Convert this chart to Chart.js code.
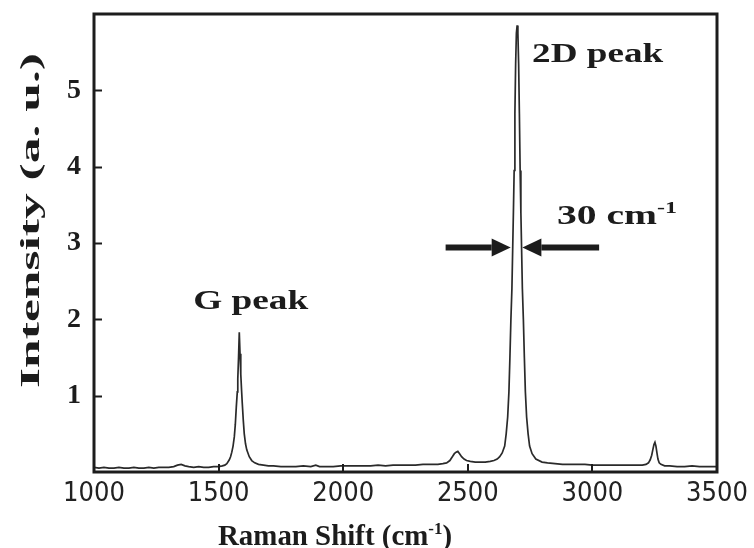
<!DOCTYPE html>
<html>
<head>
<meta charset="utf-8">
<script src="https://cdn.jsdelivr.net/npm/chart.js@4.4.0/dist/chart.umd.min.js"></script>
<style>
    html, body { margin: 0; padding: 0; background: #fff; }
    #obal { width: 754px; height: 548px; position: relative; }
</style>
</head>
<body>
<div id="obal"><canvas id="ramanGraf"></canvas></div>
<script>
// Raman spektrum
const ramanShift = [
    1000, 1020, 1040, 1060, 1080, 1100, 1120, 1140, 1160, 1180, 1200, 1220, 1240, 1260, 1280, 1300,
    1320, 1335, 1350, 1365, 1380, 1400, 1420, 1440, 1460, 1480, 1500, 1515, 1525, 1533,
    1543, 1548, 1553, 1558, 1563, 1567, 1571, 1575, 1577, 1580, 1583, 1586, 1589, 1592, 1595, 1599,
    1603, 1608, 1613, 1623, 1633, 1645, 1660, 1680, 1700, 1720, 1750, 1780, 1810, 1840, 1870, 1890,
    1905, 1930, 1960, 1990, 2020, 2050, 2080, 2110, 2140, 2170, 2200, 2230, 2260, 2290, 2320, 2350,
    2380, 2400, 2415, 2428, 2438, 2446, 2453, 2460, 2467, 2475, 2485, 2495, 2510, 2530, 2550, 2570,
    2590, 2605, 2618, 2628, 2638, 2648, 2654, 2660, 2665, 2669, 2673, 2677, 2680, 2683, 2686, 2689,
    2692, 2695, 2698, 2701, 2704, 2707, 2710, 2713, 2716, 2719, 2723, 2727, 2731, 2736,
    2742, 2748, 2758, 2773, 2798, 2820, 2850, 2880, 2910, 2940, 2970, 3000, 3030, 3060, 3090, 3120,
    3150, 3180, 3200, 3215, 3225, 3232, 3238, 3243, 3247, 3251, 3255, 3259, 3263, 3268, 3275, 3290,
    3310, 3340, 3370, 3400, 3430, 3460, 3500
];
const intensity = [
    0.06, 0.05, 0.06, 0.05, 0.05, 0.06, 0.05, 0.05, 0.06, 0.05, 0.05, 0.06, 0.05, 0.06, 0.06, 0.06,
    0.07, 0.09, 0.10, 0.08, 0.07, 0.06, 0.07, 0.06, 0.06, 0.07, 0.07, 0.08, 0.09, 0.11,
    0.16, 0.20, 0.26, 0.34, 0.46, 0.62, 0.85, 1.05, 1.22, 1.50, 1.83, 1.55, 1.28, 1.08, 0.90, 0.68,
    0.50, 0.37, 0.29, 0.20, 0.15, 0.12, 0.10, 0.09, 0.08, 0.08, 0.07, 0.07, 0.07, 0.08, 0.07, 0.09,
    0.07, 0.07, 0.07, 0.08, 0.08, 0.08, 0.08, 0.08, 0.09, 0.08, 0.09, 0.09, 0.09, 0.09, 0.10, 0.10,
    0.10, 0.11, 0.12, 0.15, 0.20, 0.24, 0.26, 0.27, 0.24, 0.20, 0.17, 0.15, 0.14, 0.13, 0.13, 0.13,
    0.14, 0.15, 0.17, 0.20, 0.25, 0.34, 0.50, 0.72, 1.05, 1.50, 2.00, 2.40, 2.90, 3.40, 3.95, 4.70,
    5.35, 5.75, 5.85, 5.75, 5.35, 4.70, 3.95, 3.40, 2.90, 2.40, 2.00, 1.50, 1.05, 0.72,
    0.50, 0.34, 0.24, 0.17, 0.13, 0.12, 0.11, 0.10, 0.10, 0.10, 0.10, 0.09, 0.09, 0.09, 0.09, 0.09,
    0.09, 0.09, 0.09, 0.10, 0.12, 0.16, 0.22, 0.30, 0.36, 0.39, 0.34, 0.25, 0.17, 0.12, 0.10, 0.08,
    0.08, 0.07, 0.07, 0.08, 0.07, 0.07, 0.07
];

const xTicks = [1000, 1500, 2000, 2500, 3000, 3500];
const yTicks = [0, 1, 2, 3, 4, 5, 6];
const yPopisky = ['', '1', '2', '3', '4', '5', ''];

const popisky = [
    { text: 'G peak', sup: '', x: 1398, y: 2.13, sirka: 115 },
    { text: '2D peak', sup: '', x: 2758, y: 5.37, sirka: 131 },
    { text: '30 cm', sup: '-1', x: 2858, y: 3.25, sirka: 120 }
];
const sipky = [
    { od: 2411, k: 2672, y: 2.94 },
    { od: 3027, k: 2719, y: 2.94 }
];

const SERIF = '"Liberation Serif", "Times New Roman", serif';
const CERNA = '#1c1c1c';

// text s horním indexem, roztažený na danou šířku
function kresliText(ctx, casti, x, y, sirka) {
    let w = 0;
    casti.forEach(c => {
        ctx.font = `bold ${c.size}px ${SERIF}`;
        c.w = ctx.measureText(c.t).width;
        w += c.w;
    });
    ctx.save();
    ctx.translate(x, y);
    ctx.scale(sirka / w, 1);
    ctx.fillStyle = CERNA;
    ctx.textBaseline = 'alphabetic';
    ctx.textAlign = 'left';
    let pos = 0;
    casti.forEach(c => {
        ctx.font = `bold ${c.size}px ${SERIF}`;
        ctx.fillText(c.t, pos, -(c.rise || 0));
        pos += c.w;
    });
    ctx.restore();
}

const dekorace = {
    id: 'dekorace',
    afterDraw(chart) {
        const ctx = chart.ctx;
        const a = chart.chartArea;
        const sx = chart.scales.x;
        const sy = chart.scales.y;

        // rámeček
        ctx.save();
        ctx.strokeStyle = CERNA;
        ctx.lineWidth = 3;
        ctx.strokeRect(a.left, a.top, a.right - a.left, a.bottom - a.top);

        // ticky dovnitř
        ctx.lineWidth = 2;
        yTicks.slice(1, -1).forEach(v => {
            const py = Math.round(sy.getPixelForValue(v)) + 0.5;
            ctx.beginPath();
            ctx.moveTo(a.left, py);
            ctx.lineTo(a.left + 8, py);
            ctx.stroke();
        });
        xTicks.slice(1, -1).forEach(v => {
            const px = Math.round(sx.getPixelForValue(v));
            ctx.beginPath();
            ctx.moveTo(px, a.bottom);
            ctx.lineTo(px, a.bottom - 8);
            ctx.stroke();
        });

        // šipky
        ctx.fillStyle = CERNA;
        sipky.forEach(s => {
            const x0 = sx.getPixelForValue(s.od);
            const x1 = sx.getPixelForValue(s.k);
            const py = sy.getPixelForValue(s.y);
            const dir = Math.sign(x1 - x0);
            const hl = 19;
            ctx.lineWidth = 6;
            ctx.beginPath();
            ctx.moveTo(x0, py);
            ctx.lineTo(x1 - dir * hl, py);
            ctx.stroke();
            ctx.beginPath();
            ctx.moveTo(x1, py);
            ctx.lineTo(x1 - dir * hl, py - 9);
            ctx.lineTo(x1 - dir * hl, py + 9);
            ctx.closePath();
            ctx.fill();
        });
        ctx.restore();

        // popisky píků
        popisky.forEach(p => {
            const casti = [{ t: p.text, size: 28 }];
            if (p.sup) casti.push({ t: p.sup, size: 17, rise: 11 });
            kresliText(ctx, casti, sx.getPixelForValue(p.x), sy.getPixelForValue(p.y), p.sirka);
        });

        // název osy x
        kresliText(ctx, [
            { t: 'Raman Shift (cm', size: 29 },
            { t: '-1', size: 17, rise: 11 },
            { t: ')', size: 29 }
        ], 218, 545, 234);

        // název osy y
        ctx.save();
        ctx.translate(39, 388);
        ctx.rotate(-Math.PI / 2);
        kresliText(ctx, [{ t: 'Intensity (a. u.)', size: 27 }], 0, 0, 335);
        ctx.restore();
    }
};

document.addEventListener('DOMContentLoaded', () => {
    vykresliSpektrum();
});

function bezOkraju(s) {
    s.paddingTop = 0;
    s.paddingBottom = 0;
    s.paddingLeft = 0;
    s.paddingRight = 0;
}

function vykresliSpektrum() {
    const canvas = document.getElementById('ramanGraf');
    const body = ramanShift.map((x, i) => ({ x: x, y: intensity[i] }));

    new Chart(canvas, {
        type: 'scatter',
        data: {
            datasets: [{
                data: body,
                showLine: true,
                borderColor: '#2a2a2a',
                borderWidth: 1.7,
                pointRadius: 0,
                tension: 0
            }]
        },
        options: {
            responsive: true,
            maintainAspectRatio: false,
            animation: false,
            layout: { padding: { top: 14, right: 37, left: 0, bottom: 0 } },
            plugins: {
                legend: { display: false },
                tooltip: { enabled: false }
            },
            scales: {
                x: {
                    type: 'linear',
                    min: 1000,
                    max: 3500,
                    afterFit: s => { s.height = 76; bezOkraju(s); },
                    afterBuildTicks: s => { s.ticks = xTicks.map(v => ({ value: v })); },
                    grid: { display: false, drawTicks: false },
                    border: { display: false },
                    ticks: {
                        padding: 6,
                        color: '#222',
                        maxRotation: 0,
                        callback: v => String(v),
                        font: { family: '"Liberation Sans Narrow", "DejaVu Sans Condensed", sans-serif', size: 27 }
                    }
                },
                y: {
                    type: 'linear',
                    min: 0,
                    max: 6,
                    afterFit: s => { s.width = 94; bezOkraju(s); },
                    afterBuildTicks: s => { s.ticks = yTicks.map(v => ({ value: v })); },
                    grid: { display: false, drawTicks: false },
                    border: { display: false },
                    ticks: {
                        padding: 13,
                        color: CERNA,
                        callback: (v, i) => yPopisky[i],
                        font: { family: SERIF, size: 28, weight: 'bold' }
                    }
                }
            }
        },
        plugins: [dekorace]
    });
}
</script>
</body>
</html>
